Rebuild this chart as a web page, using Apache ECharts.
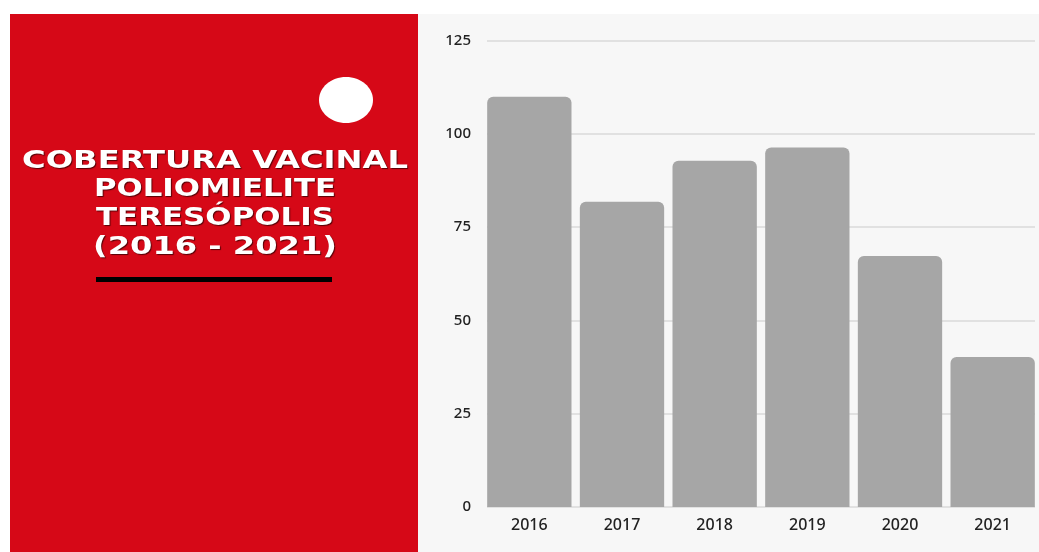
<!DOCTYPE html>
<html>
<head>
<meta charset="utf-8">
<script src="https://cdn.jsdelivr.net/npm/echarts@6/dist/echarts.min.js"></script>
<style>
  html, body { margin: 0; padding: 0; background: #ffffff; }
  #chart { width: 1039px; height: 552px; }
</style>
</head>
<body>
<div id="chart"></div>
<script>
// Vaccination coverage (%) for polio, Teresópolis
const years = ['2016', '2017', '2018', '2019', '2020', '2021'];
const coverage = [110, 81.8, 92.8, 96.4, 67.3, 40.2];
const yTicks = { min: 0, max: 125, interval: 25 };
const titleLines = ['COBERTURA VACINAL', 'POLIOMIELITE', 'TERESÓPOLIS', '(2016 - 2021)'];

const chart = echarts.init(document.getElementById('chart'), null, { renderer: 'canvas' });

// Title lines are stretched horizontally to the panel's wide display lettering
const titleFont = 'bold 25px "DejaVu Sans"';
const lineWidths = [386, 242, 238, 244];
const lineCentersY = [161, 189, 218, 247];
const measureCtx = document.createElement('canvas').getContext('2d');
measureCtx.font = titleFont;

const titleTexts = titleLines.map((t, i) => {
  const w = measureCtx.measureText(t).width;
  return {
    type: 'text',
    x: 215,
    y: lineCentersY[i],
    scaleX: lineWidths[i] / w,
    z: 10,
    style: {
      text: t,
      x: 0, y: 0,
      align: 'center',
      verticalAlign: 'middle',
      font: titleFont,
      fill: '#ffffff',
      textShadowColor: 'rgba(40,0,0,0.75)',
      textShadowOffsetX: 1,
      textShadowOffsetY: 1,
      textShadowBlur: 1
    }
  };
});

const option = {
  backgroundColor: '#ffffff',
  animation: false,
  graphic: [
    { type: 'rect', z: -10, shape: { x: 10, y: 14, width: 408, height: 538 }, style: { fill: '#d60817' }, silent: true },
    { type: 'rect', z: -10, shape: { x: 418, y: 14, width: 621, height: 538 }, style: { fill: '#f7f7f7' }, silent: true },
    { type: 'ellipse', z: 5, shape: { cx: 346, cy: 100, rx: 27, ry: 23 }, style: { fill: '#ffffff' } },
    { type: 'rect', z: 5, shape: { x: 96, y: 277, width: 236, height: 5 }, style: { fill: '#000000' } },
    ...titleTexts
  ],
  grid: [
    { left: 483, right: 0, top: 40.7, bottom: 45 },
    { left: 487, right: 4, top: 40.7, bottom: 45 }
  ],
  xAxis: [
    {
      type: 'category', gridIndex: 0, data: years,
      axisLine: { show: false }, axisTick: { show: false },
      axisLabel: { color: '#222222', fontSize: 16, fontWeight: 500, fontFamily: '"Noto Sans"', margin: 10 }
    },
    {
      type: 'category', gridIndex: 1, data: years,
      axisLine: { show: false }, axisTick: { show: false }, axisLabel: { show: false }
    }
  ],
  yAxis: [
    {
      type: 'value', gridIndex: 0, min: yTicks.min, max: yTicks.max, interval: yTicks.interval,
      axisLine: { show: false }, axisTick: { show: false }, axisLabel: { show: false },
      splitLine: { show: false }
    },
    {
      type: 'value', gridIndex: 1, min: yTicks.min, max: yTicks.max, interval: yTicks.interval,
      axisLine: { show: false }, axisTick: { show: false },
      axisLabel: { color: '#222222', fontSize: 15, fontWeight: 500, fontFamily: '"Noto Sans"', margin: 16 },
      splitLine: { show: true, lineStyle: { color: '#dadada', width: 1.5 } }
    }
  ],
  series: [
    {
      type: 'bar',
      xAxisIndex: 0, yAxisIndex: 0,
      data: coverage,
      barCategoryGap: '9%',
      z: 3,
      itemStyle: { color: '#a6a6a6', borderRadius: [6, 6, 0, 0] }
    }
  ]
};

chart.setOption(option);
</script>
</body>
</html>
